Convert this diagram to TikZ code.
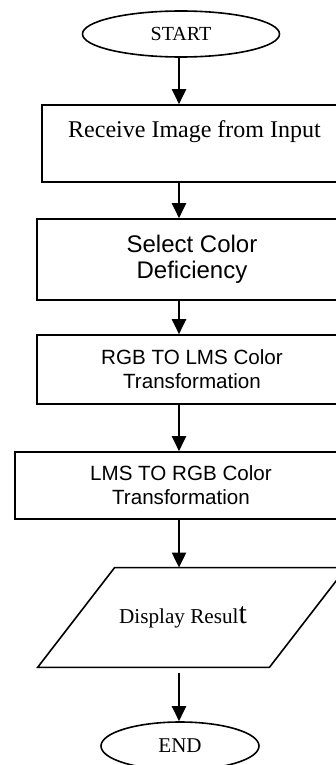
\documentclass[tikz,border=0pt]{standalone}
\usepackage{fontspec}
\setmainfont{Liberation Serif}
\newfontfamily\arialfont{Liberation Sans}
\usetikzlibrary{shapes.geometric,arrows.meta}

\tikzset{
	terminal/.style={draw, ellipse, line width=0.8pt, inner sep=0pt, font=\fontsize{10}{12}\selectfont},
	procbox/.style={draw, rectangle, line width=0.8pt, align=center, inner sep=0pt},
	iobox/.style={rectangle, inner sep=0pt},
	flow/.style={-{Triangle[width=7pt,length=7.5pt]}, line width=1pt}
}

\begin{document}
\begin{tikzpicture}[x=0.5pt, y=-0.5pt]
			\useasboundingbox (0,0) rectangle (336,765);
			% terminals and steps
			\node[terminal, minimum width=98.5pt, minimum height=23pt] (start) at (181,34) {\raisebox{-1.5pt}{START}};
			\node[procbox, minimum width=152.5pt, minimum height=38.5pt, font=\fontsize{12}{14.5}\selectfont] (recv) at (194.5,143.5) {Receive Image from Input\\ \mbox{}};
			\node[procbox, minimum width=155pt, minimum height=40.5pt, font=\arialfont\fontsize{12}{13}\selectfont] (select) at (192,259.5) {Select Color\\Deficiency};
			\node[procbox, minimum width=155pt, minimum height=34.5pt, font=\arialfont\fontsize{10.3}{12}\selectfont] (rgblms) at (192,369.5) {RGB TO LMS Color\\Transformation};
			\node[procbox, minimum width=166pt, minimum height=33.5pt, font=\arialfont\fontsize{10.3}{12}\selectfont] (lmsrgb) at (181,485.5) {LMS TO RGB Color\\Transformation};
			\node[iobox, minimum width=115.5pt, minimum height=49.5pt, font=\fontsize{10.6}{12}\selectfont] (disp) at (192,617.5) {\hspace{-9pt}Display Resul{\fontsize{15}{15}\selectfont t}};
			\draw[line width=0.8pt] ([xshift=-19.25pt]disp.south west) -- ([xshift=19.25pt]disp.north west)
				-- ([xshift=19.25pt]disp.north east) -- ([xshift=-19.25pt]disp.south east) -- cycle;
			\node[terminal, minimum width=79pt, minimum height=24pt, font=\fontsize{10.5}{12}\selectfont] (end) at (180,746) {\raisebox{-1.5pt}{END}};
			% arrows down the column
			\coordinate (axis) at (179,0);
			\draw[flow] (start.south -| axis) -- (recv.north -| axis);
			\draw[flow] (recv.south -| axis) -- (select.north -| axis);
			\draw[flow] (select.south -| axis) -- (rgblms.north -| axis);
			\draw[flow] (rgblms.south -| axis) -- (lmsrgb.north -| axis);
			\draw[flow] (lmsrgb.south -| axis) -- (disp.north -| axis);
			\draw[flow] ([yshift=-3pt]disp.south -| axis) -- (end.north -| axis);
		\end{tikzpicture}
\end{document}
